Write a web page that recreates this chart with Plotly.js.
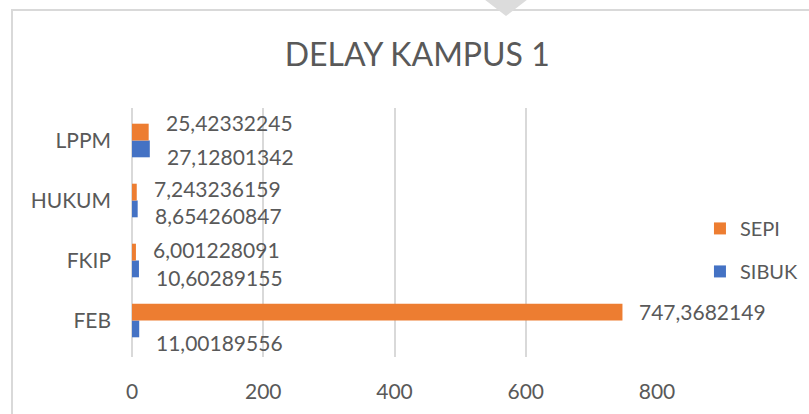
<!DOCTYPE html>
<html>
<head>
<meta charset="utf-8">
<script src="https://cdn.plot.ly/plotly-3.0.1.min.js"></script>
<style>
  html, body { margin: 0; padding: 0; background: #fff; }
  #wrap { position: relative; width: 809px; height: 414px; overflow: hidden; background:#fff; }
  #frame { position: absolute; left: 11px; top: 9px; width: 820px; height: 420px; border: 2px solid #d9d9d9; box-sizing: border-box; }
  #blob { position: absolute; left: 480px; top: -4px; width: 0; height: 0;
          border-left: 26px solid transparent; border-right: 26px solid transparent; border-top: 20px solid #dcdcdc; }
  #chart { position: absolute; left: 0; top: 0; width: 809px; height: 414px; }
</style>
</head>
<body>
<div id="wrap">
  <div id="frame"></div>
  <div id="blob"></div>
  <div id="chart"></div>
</div>
<script>
const categories = ["FEB", "FKIP", "HUKUM", "LPPM"];
const sibuk = [11.00189556, 10.60289155, 8.654260847, 27.12801342];
const sepi  = [747.3682149, 6.001228091, 7.243236159, 25.42332245];
const sibukLabels = ["11,00189556", "10,60289155", "8,654260847", "27,12801342"];
const sepiLabels  = ["747,3682149", "6,001228091", "7,243236159", "25,42332245"];
const xTicks = [0, 200, 400, 600, 800];

// label vertical nudges (pixels) as drawn in the reference
const sepiNudge  = [9, 11, 12, 18];
const sibukNudge = [-22, -17, -15, -16];

const FONT = "Lato, 'Open Sans', sans-serif";
const TXT = "#595959";
const LBL = 21;

const traces = [
  { type: "bar", orientation: "h", name: "SIBUK", y: categories, x: sibuk,
    marker: { color: "#4472C4" }, hoverinfo: "none", legendgroup: "g0", legendrank: 2 },
  { type: "bar", orientation: "h", name: "SEPI", y: categories, x: sepi,
    marker: { color: "#ED7D31" }, hoverinfo: "none", legendgroup: "g1", legendrank: 1 }
];

const annotations = [];
categories.forEach((c, i) => {
  annotations.push({ x: sepi[i], y: c, xref: "x", yref: "y", text: sepiLabels[i],
    showarrow: false, xanchor: "left", yanchor: "middle", xshift: 15, yshift: sepiNudge[i],
    font: { family: FONT, size: LBL, color: TXT } });
  annotations.push({ x: sibuk[i], y: c, xref: "x", yref: "y", text: sibukLabels[i],
    showarrow: false, xanchor: "left", yanchor: "middle", xshift: 15, yshift: sibukNudge[i],
    font: { family: FONT, size: LBL, color: TXT } });
});

const layout = {
  width: 809, height: 414,
  paper_bgcolor: "rgba(0,0,0,0)", plot_bgcolor: "rgba(0,0,0,0)",
  margin: { l: 131.5, r: 152, t: 108, b: 57, autoexpand: false },
  font: { family: FONT, color: TXT },
  title: { text: "DELAY KAMPUS 1", x: (417 - 131.5) / 525.5, xref: "paper", xanchor: "center",
           y: 1 - 55/414, yref: "container", yanchor: "middle",
           font: { family: FONT, size: 32, color: TXT } },
  barmode: "group", bargap: 0.44, bargroupgap: 0,
  xaxis: { range: [0, 800], tickvals: xTicks, ticktext: xTicks.map(String),
           showgrid: true, gridcolor: "#d9d9d9", gridwidth: 2,
           zeroline: true, zerolinecolor: "#d9d9d9", zerolinewidth: 2,
           showline: false, ticks: "", ticklabelstandoff: 20, automargin: false,
           tickfont: { family: FONT, size: LBL, color: TXT }, fixedrange: true },
  yaxis: { categoryorder: "array", categoryarray: categories,
           showgrid: false, zeroline: false, showline: false, ticks: "",
           ticklabelstandoff: 20, automargin: false,
           tickfont: { family: FONT, size: LBL, color: TXT }, fixedrange: true },
  legend: { x: (700 - 131.5) / 525.5, xanchor: "left", y: 0.43, yanchor: "middle",
            traceorder: "grouped", tracegroupgap: 14,
            font: { family: FONT, size: 20, color: TXT }, bgcolor: "rgba(0,0,0,0)" },
  annotations: annotations,
  showlegend: true
};

Plotly.newPlot("chart", traces, layout, { displayModeBar: false, staticPlot: true });
</script>
</body>
</html>
